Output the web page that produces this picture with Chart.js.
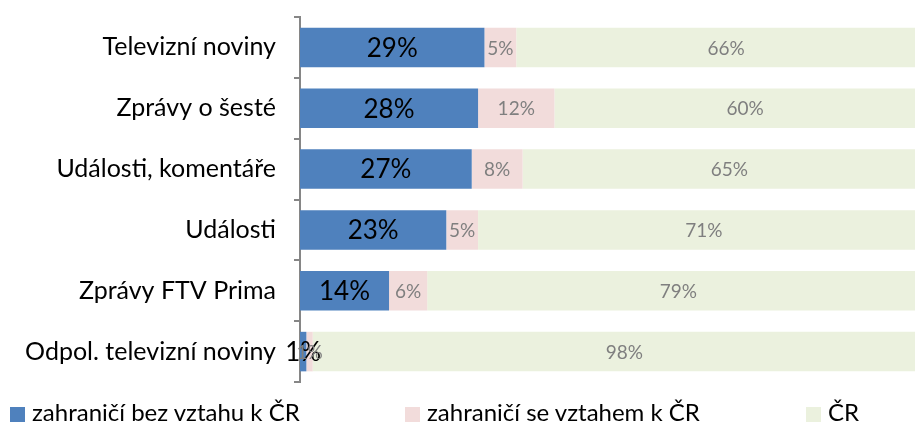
<!DOCTYPE html>
<html>
<head>
<meta charset="utf-8">
<script src="https://cdn.jsdelivr.net/npm/chart.js@4"></script>
<style>
  body { margin: 0; background: #fff; }
  #wrap { position: relative; width: 915px; height: 428px; overflow: hidden; font-family: Lato, sans-serif; }
  #box { position: absolute; left: 0; top: -16px; width: 936px; height: 431px; }
  .leg { position: absolute; top: 397px; font-size: 24px; color: #000; white-space: nowrap; }
  .leg span { display: inline-block; width: 15px; height: 15px; margin-right: 7px; vertical-align: -1px; }
</style>
</head>
<body>
<div id="wrap">
  <div id="box"><canvas id="barChart"></canvas></div>
  <div class="leg" style="left:10px"><span style="background:#4F81BD"></span>zahraničí bez vztahu k ČR</div>
  <div class="leg" style="left:405px"><span style="background:#F2DCDB"></span>zahraničí se vztahem k ČR</div>
  <div class="leg" style="left:806px"><span style="background:#EBF1DE"></span>ČR</div>
</div>
<script>
// porady (kategorie)
var categories = ['Televizní noviny', 'Zprávy o šesté', 'Události, komentáře', 'Události', 'Zprávy FTV Prima', 'Odpol. televizní noviny'];
// podíly v %
var abroadNoLink = [29, 28, 27, 23, 14, 1];
var abroadLink = [5, 12, 8, 5, 6, 1];
var domestic = [66, 60, 65, 71, 79, 98];

var seriesNames = ['zahraničí bez vztahu k ČR', 'zahraničí se vztahem k ČR', 'ČR'];

// popisky hodnot uprostred segmentu
var valueLabels = {
    id: 'valueLabels',
    afterDatasetsDraw: function(chart) {
        var ctx = chart.ctx;
        var xs = chart.scales.x;
        ctx.save();
        ctx.textAlign = 'center';
        ctx.textBaseline = 'middle';
        chart.data.datasets.forEach(function(ds, di) {
            var meta = chart.getDatasetMeta(di);
            for (var i = 0; i < ds.data.length; i++) {
                var before = 0;
                for (var k = 0; k < di; k++) before += chart.data.datasets[k].data[i];
                var mid = xs.getPixelForValue(before + ds.data[i] / 2);
                var y = meta.data[i].y;
                if (di == 0) {
                    ctx.font = '26px Lato';
                    ctx.fillStyle = '#000';
                } else {
                    ctx.font = '19px Lato';
                    ctx.fillStyle = '#7f7f7f';
                }
                ctx.fillText(ds.data[i] + '%', mid, y + 1);
            }
        });
        ctx.restore();
    }
};

var ctx1 = document.getElementById('barChart').getContext('2d');
var myBarChart = new Chart(ctx1, {
    type: 'bar',
    data: {
        labels: categories,
        datasets: [
            { label: seriesNames[0], data: abroadNoLink, backgroundColor: '#4F81BD' },
            { label: seriesNames[1], data: abroadLink, backgroundColor: '#F2DCDB' },
            { label: seriesNames[2], data: domestic, backgroundColor: '#EBF1DE' }
        ]
    },
    options: {
        indexAxis: 'y',
        responsive: true,
        maintainAspectRatio: false,
        animation: false,
        categoryPercentage: 1,
        barPercentage: 0.65,
        layout: { padding: { top: 2, bottom: 2, left: 0, right: 0 } },
        plugins: {
            legend: { display: false },
            tooltip: { enabled: false }
        },
        scales: {
            x: {
                stacked: true,
                min: 0,
                max: 100,
                display: false
            },
            y: {
                stacked: true,
                afterFit: function(scale) { scale.width = 300; },
                border: { display: true, color: '#868686', width: 2 },
                grid: {
                    offset: true,
                    drawOnChartArea: false,
                    drawTicks: true,
                    tickLength: 6,
                    color: '#868686',
                    lineWidth: 2
                },
                ticks: {
                    color: '#000',
                    padding: 18,
                    font: { family: 'Lato', size: 25 }
                }
            }
        }
    },
    plugins: [valueLabels]
});
</script>
</body>
</html>
